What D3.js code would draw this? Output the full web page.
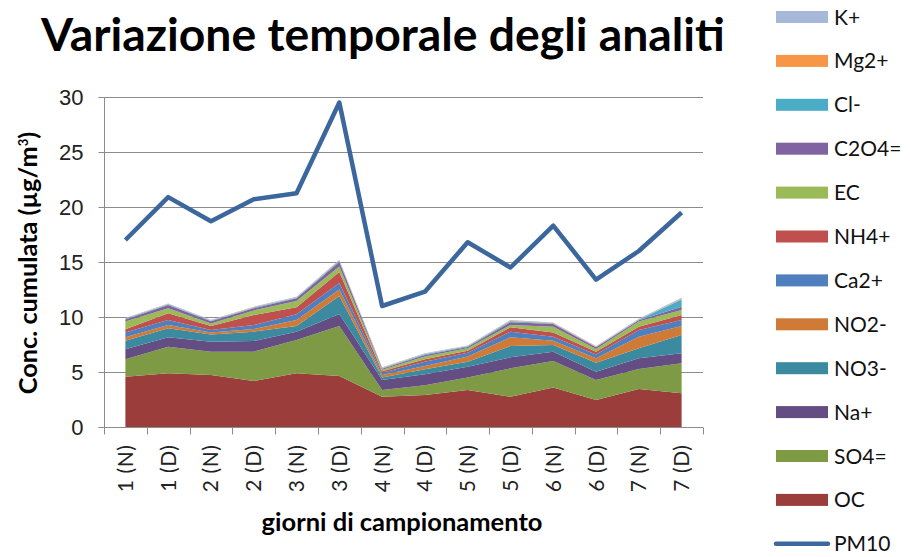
<!DOCTYPE html>
<meta charset="utf-8">
<style>
body { margin: 0; background: #fff; }
svg { font-family: Lato, "Open Sans", sans-serif; }
.grid line { stroke: #8c8c8c; stroke-width: 1; }
.axis path, .axis line { stroke: #8c8c8c; }
.axis text { fill: #222; }
</style>
<svg width="910" height="557"></svg>
<script src="https://d3js.org/d3.v7.min.js"></script>
<script>

// categories (giorni di campionamento)
var categories = ["1 (N)", "1 (D)", "2 (N)", "2 (D)", "3 (N)", "3 (D)", "4 (N)",
                  "4 (D)", "5 (N)", "5 (D)", "6 (N)", "6 (D)", "7 (N)", "7 (D)"];

// stacked analytes, bottom to top
var OC    = [4.57, 4.88, 4.73, 4.18, 4.88, 4.64, 2.75, 2.90, 3.36, 2.75, 3.58, 2.45, 3.45, 3.06];
var SO4   = [1.58, 2.42, 2.12, 2.67, 3.02, 4.54, 0.61, 0.90, 1.14, 2.58, 2.42, 1.82, 1.82, 2.73];
var Na    = [0.91, 0.85, 0.91, 0.97, 0.77, 1.09, 0.91, 1.00, 0.98, 1.00, 0.85, 0.76, 0.97, 0.91];
var NO3   = [0.79, 0.82, 0.66, 0.85, 0.51, 1.63, 0.23, 0.44, 0.46, 1.03, 0.60, 0.82, 0.91, 1.66];
var NO2   = [0.30, 0.30, 0.16, 0.23, 0.54, 0.60, 0.23, 0.31, 0.46, 0.79, 0.40, 0.39, 1.05, 0.82];
var Ca    = [0.43, 0.46, 0.24, 0.37, 0.52, 0.60, 0.21, 0.39, 0.36, 0.52, 0.35, 0.36, 0.62, 0.55];
var NH4   = [0.30, 0.60, 0.36, 0.91, 0.64, 1.00, 0.12, 0.21, 0.18, 0.39, 0.38, 0.25, 0.30, 0.45];
var EC    = [0.70, 0.46, 0.24, 0.42, 0.57, 0.50, 0.14, 0.25, 0.21, 0.21, 0.54, 0.24, 0.46, 0.46];
var C2O4  = [0.20, 0.30, 0.20, 0.20, 0.25, 0.40, 0.10, 0.15, 0.12, 0.25, 0.25, 0.15, 0.12, 0.30];
var Cl    = [0.05, 0.05, 0.04, 0.05, 0.05, 0.10, 0.05, 0.06, 0.06, 0.10, 0.05, 0.04, 0.05, 0.65];
var Mg    = [0.03, 0.03, 0.03, 0.03, 0.03, 0.03, 0.03, 0.03, 0.03, 0.03, 0.03, 0.03, 0.03, 0.05];
var K     = [0.05, 0.06, 0.05, 0.06, 0.06, 0.07, 0.05, 0.06, 0.06, 0.08, 0.06, 0.05, 0.06, 0.10];

// total PM10
var PM10  = [17.0, 20.9, 18.7, 20.7, 21.25, 29.5, 11.0, 12.3, 16.8, 14.5, 18.3, 13.4, 16.0, 19.5];

var seriesNames = ["OC", "SO4=", "Na+", "NO3-", "NO2-", "Ca2+", "NH4+", "EC", "C2O4=", "Cl-", "Mg2+", "K+"];
var seriesValues = [OC, SO4, Na, NO3, NO2, Ca, NH4, EC, C2O4, Cl, Mg, K];
var seriesColors = ["#9b3d3a", "#7e9a45", "#644d82", "#3b8aa0", "#cf7b37", "#4f7fbc",
                    "#c0504d", "#9bbb59", "#8064a2", "#4bacc6", "#f79646", "#a7b9d8"];

var yTicks = [0, 5, 10, 15, 20, 25, 30];

var svg = d3.select("svg"),
    margin = {top: 97, right: 207, bottom: 130, left: 104},
    width = +svg.attr("width") - margin.left - margin.right,
    height = +svg.attr("height") - margin.top - margin.bottom,
    g = svg.append("g").attr("transform", "translate(" + margin.left + "," + margin.top + ")");

// shrink/grow a text so that it takes the given length
function fitText(sel, size, target) {
  sel.attr("font-size", size);
  var w = sel.node().getComputedTextLength();
  sel.attr("font-size", size * target / w);
}

var rows = categories.map(function(c, i) {
  var r = {cat: c};
  seriesNames.forEach(function(s, j) { r[s] = seriesValues[j][i]; });
  return r;
});

var x = d3.scaleBand().domain(categories).range([0, width]).padding(0);
var y = d3.scaleLinear().domain([0, 30]).range([height, 0]);
var cx = function(c) { return x(c) + x.bandwidth() / 2; };

// horizontal grid
g.append("g")
    .attr("class", "grid")
  .selectAll("line")
  .data(yTicks.slice(1))
  .enter().append("line")
    .attr("x1", 0)
    .attr("x2", width)
    .attr("y1", function(d) { return y(d) + 0.5; })
    .attr("y2", function(d) { return y(d) + 0.5; });

var stack = d3.stack().keys(seriesNames);
var layers = stack(rows);

var area = d3.area()
    .x(function(d) { return cx(d.data.cat); })
    .y0(function(d) { return y(d[0]); })
    .y1(function(d) { return y(d[1]); });

g.append("g")
  .selectAll("path")
  .data(layers)
  .enter().append("path")
    .attr("d", area)
    .attr("fill", function(d, i) { return seriesColors[i]; });

// y axis
var yAxis = g.append("g")
    .attr("class", "axis")
    .attr("transform", "translate(0.5,0)")
    .call(d3.axisLeft(y).tickValues(yTicks).tickSize(6).tickPadding(15));
yAxis.select(".domain").attr("d", "M-6," + (y(30) + 0.5) + "H0V" + (y(0) + 0.5) + "H-6");
yAxis.selectAll("text").attr("font-size", 22);

// x axis
var xAxis = g.append("g")
    .attr("class", "axis")
    .attr("transform", "translate(0," + (height + 0.5) + ")");
xAxis.append("line")
    .attr("x1", 0).attr("x2", width).attr("y1", 0).attr("y2", 0);
xAxis.selectAll(".tk")
  .data(d3.range(categories.length + 1))
  .enter().append("line")
    .attr("class", "tk")
    .attr("x1", function(i) { return Math.round(i * x.bandwidth()) + 0.5; })
    .attr("x2", function(i) { return Math.round(i * x.bandwidth()) + 0.5; })
    .attr("y1", 0).attr("y2", 7);
xAxis.selectAll(".lbl")
  .data(categories)
  .enter().append("text")
    .attr("class", "lbl")
    .attr("transform", function(d) { return "translate(" + (cx(d) + 7.5) + ",17) rotate(-90)"; })
    .attr("text-anchor", "end")
    .attr("font-size", 21)
    .attr("letter-spacing", 0.6)
    .text(function(d) { return d; });

// PM10 line
var line = d3.line()
    .x(function(d, i) { return cx(categories[i]); })
    .y(function(d) { return y(d); });

g.append("path")
    .datum(PM10)
    .attr("d", line)
    .attr("fill", "none")
    .attr("stroke", "#3b679d")
    .attr("stroke-width", 4.5)
    .attr("stroke-linejoin", "round");

// titles
var title = svg.append("text")
    .attr("x", 383)
    .attr("y", 51)
    .attr("text-anchor", "middle")
    .attr("font-weight", "bold")
    .attr("fill", "#000")
    .text("Variazione temporale degli analiti");
fitText(title, 36, 684);

var xTitle = svg.append("text")
    .attr("x", 402)
    .attr("y", 531)
    .attr("text-anchor", "middle")
    .attr("font-weight", "bold")
    .text("giorni di campionamento");
fitText(xTitle, 19, 281);

var yTitle = svg.append("text")
    .attr("transform", "translate(37,263) rotate(-90)")
    .attr("text-anchor", "middle")
    .attr("font-weight", "bold")
    .attr("font-size", 21);
yTitle.append("tspan").text("Conc. cumulata (µg/m");
yTitle.append("tspan").attr("font-size", 13).attr("dy", -9).text("3");
yTitle.append("tspan").attr("dy", 9).text(")");
var yw = yTitle.node().getComputedTextLength();
yTitle.attr("font-size", 21 * 264 / yw);

// legend
var legendItems = seriesNames.map(function(s, i) { return {name: s, color: seriesColors[i], type: "area"}; })
    .reverse()
    .concat([{name: "PM10", color: "#3b679d", type: "line"}]);

var legend = svg.append("g")
  .selectAll("g")
  .data(legendItems)
  .enter().append("g")
    .attr("transform", function(d, i) { return "translate(776," + (17 + i * 43.9) + ")"; });

legend.filter(function(d) { return d.type === "area"; })
  .append("rect")
    .attr("x", 0).attr("y", -6).attr("width", 52).attr("height", 12)
    .attr("fill", function(d) { return d.color; });

legend.filter(function(d) { return d.type === "line"; })
  .append("line")
    .attr("x1", 0).attr("x2", 52).attr("y1", 0).attr("y2", 0)
    .attr("stroke", function(d) { return d.color; })
    .attr("stroke-width", 4.5)
    .attr("stroke-linecap", "round");

legend.append("text")
    .attr("x", 58)
    .attr("dy", "0.36em")
    .attr("font-size", 21)
    .attr("fill", "#111")
    .text(function(d) { return d.name; });

</script>
